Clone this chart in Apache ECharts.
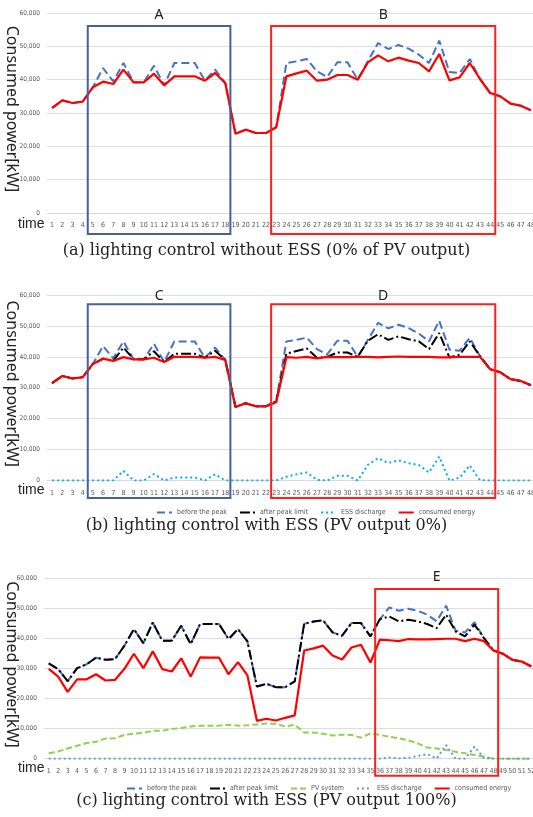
<!DOCTYPE html>
<html>
<head>
<meta charset="utf-8">
<script src="https://cdn.jsdelivr.net/npm/echarts@6/dist/echarts.min.js"></script>
<style>
  body { margin: 0; background: #fff; }
  .panel { position: absolute; left: 0; width: 533px; }
</style>
</head>
<body>
<div id="chartA" class="panel" style="top:0;height:262px"></div>
<div id="chartB" class="panel" style="top:262px;height:275px"></div>
<div id="chartC" class="panel" style="top:537px;height:280px"></div>
<script>
// time slots (x tick labels)
const hours48 = Array.from({ length: 48 }, (_, i) => String(i + 1));
const hours52 = Array.from({ length: 52 }, (_, i) => String(i + 1));

// (a) lighting control without ESS
const aBefore = [31500, 33800, 33000, 33400, 37700, 43500, 39500, 45000, 39200, 39200, 44200, 38300,
  45000, 45000, 45000, 39700, 43000, 39000, 23800, 25000, 24000, 24000, 25700, 45000,
  45500, 46200, 42500, 40800, 45200, 45200, 40000, 45500, 51000, 49200, 50400, 49300,
  47500, 45000, 51700, 42300, 42000, 46200, 40200, 36000, 35000, 32800, 32200, 30800];
const aConsumed = [31500, 33800, 33000, 33400, 37700, 39400, 38700, 43000, 39200, 39200, 41800, 38300,
  41000, 41000, 41000, 39700, 42000, 39000, 23800, 25000, 24000, 24000, 25700, 41000,
  41900, 42700, 39700, 40000, 41400, 41400, 40000, 45200, 47300, 45500, 46600, 45700,
  45000, 42500, 47700, 39800, 40700, 45000, 40200, 36000, 35000, 32800, 32200, 30800];

// (b) lighting control with ESS, PV output 0%
const bBefore = aBefore;
const bAfter = aConsumed;
const bEss = [0, 0, 0, 0, 0, 0, 0, 3100, 0, 0, 2100, 0,
  1000, 1000, 1000, 0, 2000, 0, 0, 0, 0, 0, 0, 1200,
  2000, 2600, 200, 0, 1500, 1500, 0, 5100, 7200, 5700, 6500, 5600,
  5000, 2600, 7700, 0, 900, 4900, 100, 0, 0, 0, 0, 0];
const bConsumed = [31500, 33800, 33000, 33400, 37700, 39400, 38700, 39900, 39200, 39200, 39700, 38300,
  40000, 40000, 40000, 39700, 40000, 39000, 23800, 25000, 24000, 24000, 25300, 39900,
  39700, 40000, 39500, 40000, 39900, 39900, 40000, 40000, 39800, 40000, 40100, 40000,
  40000, 40000, 39800, 39800, 40000, 40000, 40000, 36000, 35000, 32800, 32200, 30800];

// (c) lighting control with ESS, PV output 100%
const cBefore = [31700, 29800, 25800, 30100, 31400, 33600, 32900, 33100, 37600, 43100, 38400, 45300,
  39200, 39200, 44200, 38100, 44800, 44800, 44800, 39800, 43100, 39000, 24000, 24900,
  23800, 23800, 25700, 44900, 45600, 46000, 42000, 40900, 45100, 45100, 40700, 46400,
  50300, 49200, 49900, 49200, 47900, 45700, 50900, 42600, 42000, 45400, 40100, 36000,
  34900, 32900, 32300, 30700];
const cAfter = [31700, 29800, 25800, 30100, 31400, 33600, 32900, 33100, 37600, 43100, 38400, 45300,
  39200, 39200, 44200, 38100, 44800, 44800, 44800, 39800, 43100, 39000, 24000, 24900,
  23800, 23800, 25700, 44900, 45600, 46000, 42000, 40900, 45100, 45100, 40700, 46400,
  47300, 45700, 46200, 45700, 44800, 43400, 47900, 42300, 40700, 44600, 40100, 36000,
  34900, 32900, 32300, 30700];
const cPv = [1800, 2400, 3400, 4300, 5200, 5600, 6700, 6800, 7900, 8300, 8600, 9300,
  9300, 9900, 10200, 10700, 11000, 11000, 11000, 11300, 11000, 11100, 11400, 11700,
  11600, 10700, 11300, 8700, 8700, 8300, 7700, 8000, 7900, 7000, 8400, 7900,
  7300, 6800, 6100, 5100, 3700, 3400, 2900, 2300, 1800, 1200, 700, 0,
  0, 0, 0, 0];
const cEss = [0, 0, 0, 0, 0, 0, 0, 0, 0, 0, 0, 0,
  0, 0, 0, 0, 0, 0, 0, 0, 0, 0, 0, 0,
  0, 0, 0, 0, 0, 0, 0, 0, 0, 0, 0, 0,
  400, 100, 300, 900, 1500, 100, 4500, 0, 0, 4000, 200, 0,
  0, 0, 0, 0];
const cConsumed = [29900, 27300, 22200, 26400, 26400, 28100, 26000, 26200, 29900, 34900, 30100, 35700,
  29800, 29000, 33400, 27300, 33700, 33600, 33600, 28100, 32100, 27700, 12600, 13300,
  12700, 13600, 14400, 36000, 36700, 37600, 34300, 33000, 37000, 37900, 32000, 39600,
  39400, 39100, 39800, 39700, 39700, 39800, 39900, 39900, 39100, 39900, 39100, 36000,
  34900, 32900, 32300, 30700];

// highlighted periods: first and last time slot inside each box
const boxesA = [{ label: "A", from: 5, to: 18, kind: "blue" }, { label: "B", from: 23, to: 44, kind: "red" }];
const boxesB = [{ label: "C", from: 5, to: 18, kind: "blue" }, { label: "D", from: 23, to: 44, kind: "red" }];
const boxesC = [{ label: "E", from: 36, to: 48, kind: "red" }];

const styles = {
  before: { color: "#4472C4", width: 2, type: [8, 4] },
  after: { color: "#000000", width: 2, type: [10, 3, 2, 3] },
  pv: { color: "#92D050", width: 2, type: [6, 3] },
  essB: { color: "#00B0F0", width: 2, type: [2, 3] },
  essC: { color: "#5B9BD5", width: 2, type: [2, 3] },
  consumed: { color: "#FF0000", width: 2.2, type: "solid" },
};
const boxColors = { blue: "#44619c", red: "#ff1f1f" };
const smallFont = "'Liberation Sans Narrow', 'DejaVu Sans Condensed', sans-serif";

function line(name, data, st) {
  return {
    name: name, type: "line", data: data, symbol: "none",
    lineStyle: { color: st.color, width: st.width, type: st.type },
    itemStyle: { color: st.color },
  };
}

function buildPanel(el, p) {
  const chart = echarts.init(document.getElementById(el));
  const option = {
    animation: false,
    title: [
      {
        text: p.caption, left: "center", top: p.captionTop, padding: 0,
        textStyle: { fontFamily: "DejaVu Serif", fontSize: 16, fontWeight: "normal", color: "#222" },
      },
      {
        text: "time", left: 18, top: p.timeTop, padding: 0,
        textStyle: { fontFamily: "Liberation Sans", fontSize: 14, fontWeight: "normal", color: "#222" },
      },
    ],
    grid: {
      left: p.left, top: p.top, width: p.width, height: p.height,
      containLabel: false, outerBoundsMode: "none",
    },
    xAxis: {
      type: "category", data: p.categories, boundaryGap: true,
      axisLine: { lineStyle: { color: "#d9d9d9" } },
      axisTick: { show: false },
      axisLabel: { interval: 0, fontSize: 7, fontFamily: smallFont, color: "#595959", margin: 9 },
    },
    yAxis: {
      type: "value", min: 0, max: 60000, interval: 10000,
      axisLabel: { fontSize: 6.5, fontFamily: smallFont, color: "#595959", margin: 7 },
      splitLine: { lineStyle: { color: "#dedede" } },
    },
    series: p.series,
  };
  if (p.legendTop != null) {
    option.legend = {
      left: p.legendLeft, top: p.legendTop, itemWidth: 15, itemHeight: 6, itemGap: 12,
      itemStyle: { opacity: 0 },
      textStyle: { fontSize: 7, fontFamily: smallFont, color: "#595959" },
    };
  }
  chart.setOption(option);

  const graphics = [];
  // vertical axis title, reading top to bottom
  graphics.push({
    type: "text", x: 12, y: p.top + p.height / 2 - 4, rotation: -Math.PI / 2,
    style: {
      text: "Consumed power[kW]", font: "16px Noto Sans", fill: "#222",
      align: "center", verticalAlign: "middle",
    },
  });

  // boxes around the highlighted periods
  const px = (i) => chart.convertToPixel({ xAxisIndex: 0 }, i);
  p.boxes.forEach((b) => {
    const x0 = (px(b.from - 2) + px(b.from - 1)) / 2;
    const x1 = (px(b.to - 1) + px(b.to)) / 2;
    const y0 = chart.convertToPixel({ yAxisIndex: 0 }, p.boxTopValue);
    const y1 = chart.convertToPixel({ yAxisIndex: 0 }, 0) + p.boxBelow;
    graphics.push({
      type: "rect", shape: { x: x0, y: y0, width: x1 - x0, height: y1 - y0 },
      style: { fill: null, stroke: boxColors[b.kind], lineWidth: 2 }, z: 10,
    });
    graphics.push({
      type: "text", x: (x0 + x1) / 2, y: p.letterY,
      style: { text: b.label, font: "14px Noto Sans", fill: "#222", align: "center", verticalAlign: "middle" },
      z: 10,
    });
  });
  chart.setOption({ graphic: graphics });
  return chart;
}

buildPanel("chartA", {
  categories: hours48, left: 47, top: 13, width: 489, height: 200,
  caption: "(a) lighting control without ESS (0% of PV output)", captionTop: 243, timeTop: 217,
  boxes: boxesA, boxTopValue: 56100, boxBelow: 21, letterY: 15,
  series: [
    line("before the peak", aBefore, styles.before),
    line("consumed energy", aConsumed, styles.consumed),
  ],
});

buildPanel("chartB", {
  categories: hours48, left: 47, top: 33, width: 489, height: 185.5,
  caption: "(b) lighting control with ESS (PV output 0%)", captionTop: 256, timeTop: 221,
  legendLeft: 151, legendTop: 242,
  boxes: boxesB, boxTopValue: 57000, boxBelow: 17.5, letterY: 34,
  series: [
    line("before the peak", bBefore, styles.before),
    line("after peak limit", bAfter, styles.after),
    line("ESS discharge", bEss, styles.essB),
    line("consumed energy", bConsumed, styles.consumed),
  ],
});

buildPanel("chartC", {
  categories: hours52, left: 44, top: 41.3, width: 492, height: 180.4,
  caption: "(c) lighting control with ESS (PV output 100%)", captionTop: 256, timeTop: 224,
  legendLeft: 121, legendTop: 243,
  boxes: boxesC, boxTopValue: 56400, boxBelow: 17, letterY: 40,
  series: [
    line("before the peak", cBefore, styles.before),
    line("after peak limit", cAfter, styles.after),
    line("PV system", cPv, styles.pv),
    line("ESS discharge", cEss, styles.essC),
    line("consumed energy", cConsumed, styles.consumed),
  ],
});
</script>
</body>
</html>
